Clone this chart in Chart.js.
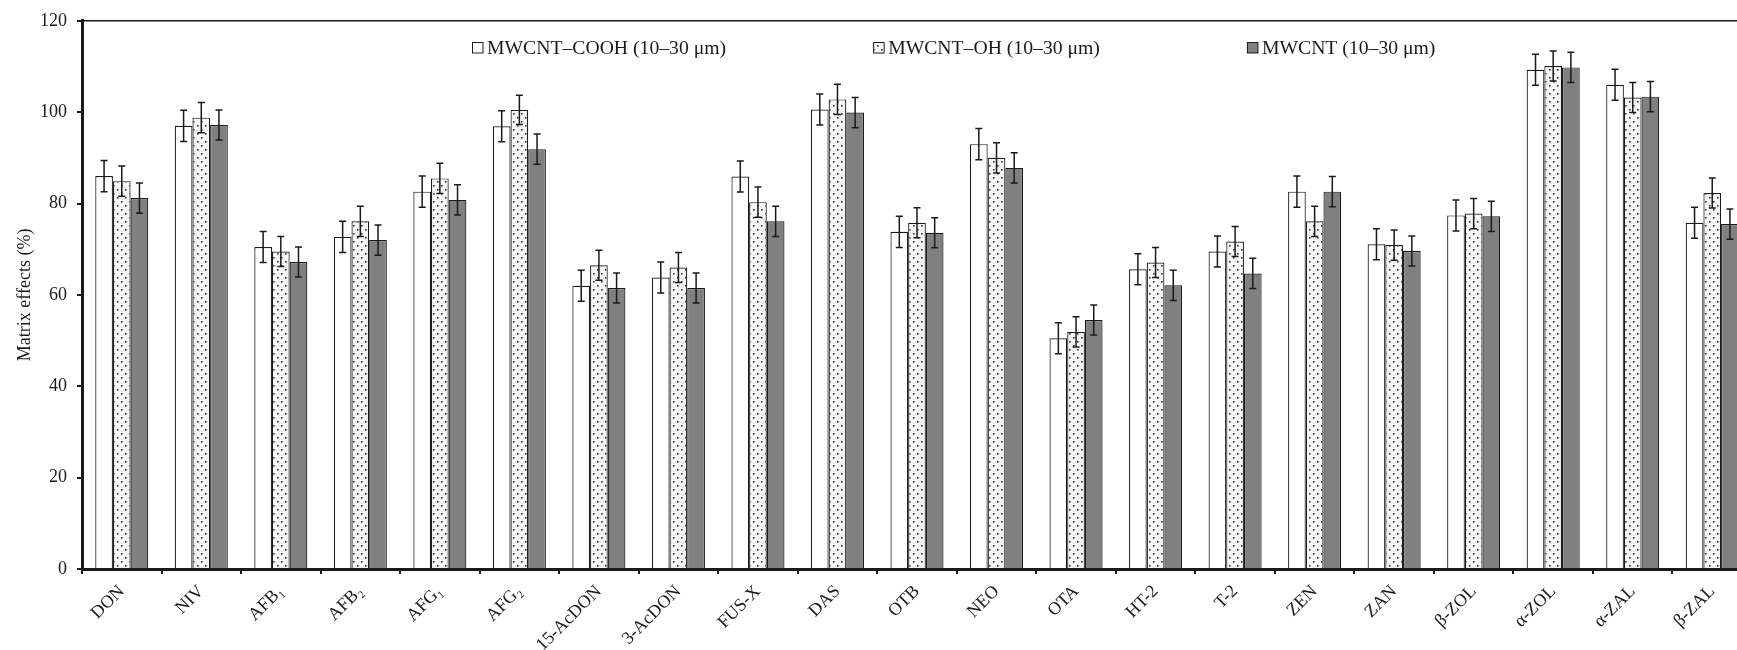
<!DOCTYPE html>
<html>
<head>
<meta charset="utf-8">
<script src="https://cdn.jsdelivr.net/npm/chart.js@4/dist/chart.umd.min.js"></script>
<style>
  html, body { margin: 0; padding: 0; background: #fff; overflow: hidden; }
  #wrap { width: 1752px; height: 650px; }
</style>
</head>
<body>
<div id="wrap"><canvas id="c" width="1752" height="650"></canvas></div>
<script>
const categories = ['DON','NIV','AFB\u2081','AFB\u2082','AFG\u2081','AFG\u2082','15-AcDON','3-AcDON','FUS-X','DAS','OTB','NEO','OTA','HT-2','T-2','ZEN','ZAN','\u03B2-ZOL','\u03B1-ZOL','\u03B1-ZAL','\u03B2-ZAL'];
const seriesNames = ['MWCNT\u2013COOH (10\u201330 \u03BCm)', 'MWCNT\u2013OH (10\u201330 \u03BCm)', 'MWCNT (10\u201330 \u03BCm)'];
const coohValues  = [86.0, 97.0, 70.5, 72.7, 82.6, 96.9, 62.0, 63.8, 85.9, 100.6, 73.8, 93.0, 50.5, 65.6, 69.5, 82.6, 71.1, 77.4, 109.3, 106.0, 75.8];
const ohValues    = [84.9, 98.8, 69.5, 76.1, 85.5, 100.5, 66.5, 66.0, 80.3, 102.8, 75.8, 90.0, 51.9, 67.1, 71.7, 76.1, 70.9, 77.8, 110.1, 103.2, 82.3];
const plainValues = [81.2, 97.2, 67.2, 72.0, 80.8, 91.9, 61.5, 61.5, 76.1, 99.9, 73.6, 87.8, 54.5, 62.1, 64.7, 82.6, 69.6, 77.2, 109.8, 103.4, 75.5];
const coohErr  = [3.4, 3.4, 3.4, 3.4, 3.4, 3.4, 3.4, 3.4, 3.4, 3.4, 3.4, 3.4, 3.4, 3.4, 3.4, 3.4, 3.4, 3.4, 3.4, 3.4, 3.4];
const ohErr    = [3.3, 3.3, 3.3, 3.3, 3.3, 3.2, 3.3, 3.3, 3.3, 3.3, 3.3, 3.3, 3.3, 3.3, 3.3, 3.3, 3.3, 3.3, 3.3, 3.3, 3.3];
const plainErr = [3.3, 3.3, 3.3, 3.3, 3.3, 3.3, 3.3, 3.3, 3.3, 3.3, 3.3, 3.3, 3.3, 3.3, 3.3, 3.3, 3.3, 3.3, 3.3, 3.3, 3.3];
const yTicks = [0, 20, 40, 60, 80, 100, 120];

const FONT = "'Liberation Serif', 'Times New Roman', serif";
const INK = '#1a1a1a';

function dotPattern() {
  const p = document.createElement('canvas');
  p.width = 8; p.height = 8;
  const g = p.getContext('2d');
  g.fillStyle = '#f6f6f6';
  g.fillRect(0, 0, 8, 8);
  g.fillStyle = '#333';
  g.fillRect(1, 1, 1.6, 1.6);
  g.fillRect(5, 5, 1.6, 1.6);
  return document.getElementById('c').getContext('2d').createPattern(p, 'repeat');
}
const dots = dotPattern();
const errorSets = [coohErr, ohErr, plainErr];

const errorBars = {
  id: 'errorBars',
  afterDatasetsDraw(chart) {
    const ctx = chart.ctx, y = chart.scales.y;
    ctx.save();
    ctx.strokeStyle = INK; ctx.lineWidth = 1.5;
    chart.data.datasets.forEach((ds, i) => {
      const meta = chart.getDatasetMeta(i);
      meta.data.forEach((bar, j) => {
        const v = ds.data[j], e = errorSets[i][j];
        const top = y.getPixelForValue(v + e), bot = y.getPixelForValue(v - e);
        const x = bar.x, cap = 3.5;
        ctx.beginPath();
        ctx.moveTo(x, top); ctx.lineTo(x, bot);
        ctx.moveTo(x - cap, top); ctx.lineTo(x + cap, top);
        ctx.moveTo(x - cap, bot); ctx.lineTo(x + cap, bot);
        ctx.stroke();
      });
    });
    ctx.restore();
  }
};

const frameAndLegend = {
  id: 'frameAndLegend',
  afterDraw(chart) {
    const ctx = chart.ctx, a = chart.chartArea;
    ctx.save();
    ctx.strokeStyle = INK; ctx.lineWidth = 1.5;
    ctx.beginPath(); ctx.moveTo(a.left, a.top); ctx.lineTo(a.right, a.top); ctx.stroke();
    ctx.font = '19.7px ' + FONT;
    ctx.textBaseline = 'middle';
    let x = 472; const cy = 47.5;
    chart.data.datasets.forEach((ds) => {
      ctx.fillStyle = ds.backgroundColor;
      ctx.fillRect(x, cy - 5.5, 11, 11);
      ctx.strokeStyle = INK; ctx.lineWidth = 1;
      ctx.strokeRect(x + 0.5, cy - 5.5 + 0.5, 10.5, 10.5);
      ctx.fillStyle = INK;
      ctx.fillText(ds.label, x + 15, cy + 1);
      x += 15 + ctx.measureText(ds.label).width + 147;
    });
    ctx.restore();
  }
};

new Chart(document.getElementById('c'), {
  type: 'bar',
  data: {
    labels: categories,
    datasets: [
      { label: seriesNames[0], data: coohValues, backgroundColor: '#ffffff', borderColor: INK, borderWidth: 1.2 },
      { label: seriesNames[1], data: ohValues, backgroundColor: dots, borderColor: INK, borderWidth: 1.2 },
      { label: seriesNames[2], data: plainValues, backgroundColor: '#808080', borderColor: INK, borderWidth: 1.2 }
    ]
  },
  options: {
    responsive: false,
    animation: false,
    layout: { padding: { top: 19, left: 0, right: 0, bottom: 0 } },
    plugins: { legend: { display: false }, tooltip: { enabled: false } },
    datasets: { bar: { barPercentage: 1.0, categoryPercentage: 0.667 } },
    scales: {
      x: {
        offset: true,
        grid: { offset: true, drawOnChartArea: false, drawTicks: true, tickLength: 5, color: INK, lineWidth: 2 },
        border: { display: true, color: INK, width: 3 },
        ticks: { color: INK, font: { family: FONT, size: 18 }, minRotation: 45, maxRotation: 45, padding: 7, autoSkip: false },
        afterFit(s) { s.height = 81; }
      },
      y: {
        min: 0, max: 120,
        afterBuildTicks(s) { s.ticks = yTicks.map(v => ({ value: v })); },
        grid: { drawOnChartArea: false, drawTicks: true, tickLength: 5, color: INK, lineWidth: 2 },
        border: { display: true, color: INK, width: 3 },
        ticks: { color: INK, font: { family: FONT, size: 18 }, padding: 10 },
        title: { display: true, text: 'Matrix effects (%)', color: INK, font: { family: FONT, size: 18 }, padding: { top: 14, bottom: 0 } },
        afterFit(s) { s.width = 82; }
      }
    }
  },
  plugins: [errorBars, frameAndLegend]
});
</script>
</body>
</html>
